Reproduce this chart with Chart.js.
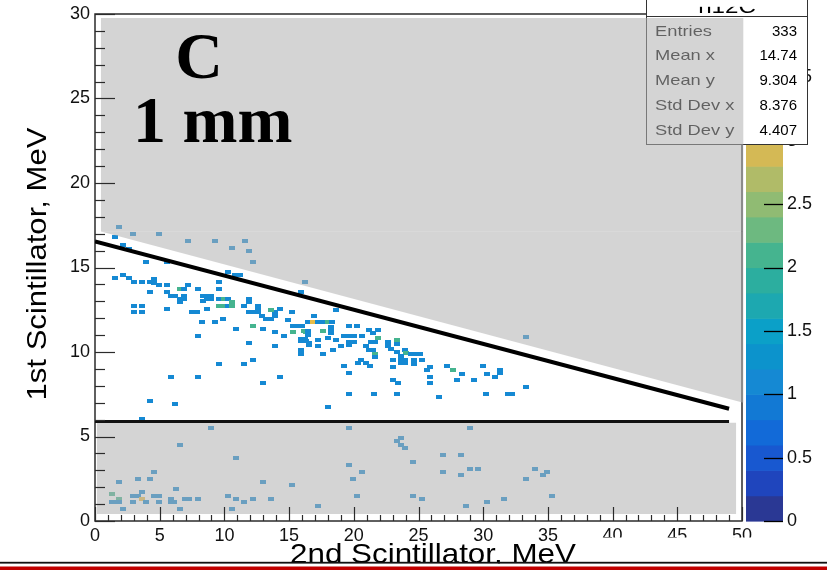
<!DOCTYPE html>
<html><head><meta charset="utf-8">
<script src="https://cdn.jsdelivr.net/npm/chart.js@4/dist/chart.umd.min.js"></script>
<style>html,body{margin:0;padding:0;background:#fff;}canvas{display:block;}</style>
</head><body>
<canvas id="c" width="827" height="570"></canvas>
<script>
// ---- histogram cells (2nd scintillator MeV, 1st scintillator MeV, entries) ----
const ptX = [
 1.88,2.96,4.92,7.19,9.27,11.57,10.59,11.9,12.21,16.25,33.3,
 15.92,1.55,2.19,2.65,3.94,5.56,10.25,10.84,11.23,9.61,
 1.55,2.19,2.65,2.99,3.63,4.27,4.58,4.58,4.92,5.56,6.54,6.85,7.19,
 4.27,5.56,5.87,6.21,6.54,6.54,6.85,6.85,7.96,9.61,
 8.32,8.66,8.32,8.66,8.97,8.97,9.61,9.94,10.25,
 9.61,9.94,10.25,10.59,10.59,11.54,11.9,11.9,12.57,12.57,14.3,15.25,
 2.99,3.63,2.99,3.63,5.56,7.5,7.85,8.63,
 11.9,12.2,12.57,12.88,13.21,13.6,13.94,13.94,13.6,
 8.29,9.27,9.92,10.9,12.21,12.98,13.94,14.58,
 14.89,15.28,15.66,15.28,15.97,16.3,15.92,16.25,16.56,
 7.96,11.88,13.94,15.92,9.61,11.54,12.21,5.87,7.96,14.3,12.98,4.27,6.21,3.63,
 16.9,18.62,
 16.43,16.82,17.2,17.59,17.98,18.3,
 18.24,18.24,18.24,
 16.17,16.43,16.43,17.6,
 15.92,16.3,16.56,17.2,17.98,18.62,19.0,17.2,18.37,17.6,15.92,
 19.65,20.25,19.27,19.65,20.0,20.61,19.65,19.99,19.65,
 20.94,21.2,21.9,21.46,21.3,21.6,21.85,
 21.2,21.46,21.6,21.6,
 20.56,20.3,20.94,21.28,19.27,19.65,
 22.62,22.62,23.3,23.3,22.88,23.34,23.96,24.03,
 24.4,24.75,25.1,
 23.65,23.0,23.65,23.96,24.68,25.25,
 23.0,23.65,23.96,24.63,23.0,23.39,
 25.91,25.66,25.91,25.91,
 27.2,27.64,28.34,27.98,29.31,29.96,30.29,30.91,31.27,31.27,
 30.22,31.89,32.2,26.55,23.34,21.53,19.6,17.98,33.3,
 8.96,6.54,10.92,4.58,1.88,3.3,4.27,6.23,3.61,
 1.29,1.29,1.6,1.88,1.88,
 2.96,3.3,3.61,3.94,4.58,4.92,4.92,2.96,5.87,6.13,5.87,6.95,7.29,7.98,2.19,6.54,
 10.25,10.92,10.59,11.54,12.21,12.98,13.63,15.25,17.23,19.6,19.6,20.61,19.96,20.27,
 28.98,23.31,23.65,23.65,23.98,26.92,28.31,24.6,26.92,28.31,28.98,29.62,
 33.33,33.98,34.62,34.95,24.6,25.27,28.65,30.27,31.58,35.29
];
const ptY = [
 17.39,16.97,16.97,16.56,16.56,16.56,16.14,15.96,15.33,14.15,10.9,
 13.53,16.78,16.36,16.12,15.33,15.33,14.74,14.54,14.54,14.15,
 14.36,14.54,14.36,14.17,14.17,14.17,14.33,14.09,13.95,13.95,13.73,13.73,13.95,
 13.53,13.53,13.34,13.34,13.14,12.94,13.34,13.14,13.73,13.73,
 13.34,13.34,13.0,13.14,13.14,13.34,13.14,13.14,13.14,
 12.74,12.74,12.74,12.74,12.94,12.74,13.14,12.94,12.74,12.55,12.55,12.35,
 12.74,12.74,12.35,12.35,12.55,12.35,12.35,12.55,
 12.35,12.35,12.35,12.15,11.96,11.96,12.15,12.35,12.51,
 11.76,11.76,11.96,11.36,11.56,11.36,11.16,10.92,
 11.92,11.56,11.56,11.16,11.56,11.16,10.77,10.77,10.53,
 10.92,10.53,10.33,9.9,9.31,9.31,9.53,8.52,8.52,8.52,8.14,7.11,6.92,6.03,
 12.15,12.51,
 11.76,11.76,11.76,11.76,11.76,11.76,
 11.5,11.3,11.1,
 11.22,11.22,11.02,11.22,
 10.63,10.63,10.43,10.73,10.83,10.73,10.33,10.33,10.1,9.9,10.1,
 11.56,11.56,10.92,10.92,10.92,10.92,10.57,10.57,10.43,
 10.33,11.32,11.32,11.13,10.61,10.61,10.83,
 10.14,10.14,9.9,9.7,
 9.54,9.35,9.35,9.15,9.15,8.76,
 10.57,10.37,10.69,10.49,10.18,9.98,10.14,9.94,
 9.9,9.9,9.9,
 9.78,9.54,9.54,9.54,9.54,9.54,
 9.11,9.35,9.35,9.31,8.36,8.16,
 9.11,8.95,8.52,8.16,
 9.15,8.95,8.71,8.32,8.32,9.15,8.71,8.52,8.95,8.76,
 7.53,7.53,7.53,7.33,7.53,7.53,7.53,6.74,7.93,
 5.53,4.52,3.72,2.9,2.33,2.49,2.49,1.9,1.7,
 1.6,1.11,1.11,1.3,1.11,
 1.48,1.48,1.3,1.14,1.48,1.48,1.11,1.11,1.29,1.11,1.11,1.3,1.3,1.3,0.69,0.69,
 1.48,1.3,0.69,1.11,1.3,2.33,1.3,2.12,0.89,5.53,3.32,2.9,2.49,1.48,
 5.53,4.74,4.94,4.52,4.31,3.93,3.93,3.5,2.92,2.71,3.08,3.08,
 2.49,3.08,2.71,2.92,1.48,1.3,0.89,1.11,1.3,1.48
];
const ptN = [
 1,1,1,1,1,1,1,1,1,1,1,
 1,1,1,1,1,1,1,1,1,1,
 1,1,1,1,1,1,1,1,1,1,2,1,1,
 1,1,1,1,1,1,1,1,1,1,
 1,1,1,1,1,1,1,2,1,
 2,2,1,2,2,1,1,1,1,1,1,1,
 1,1,1,1,1,1,1,1,
 1,1,1,1,1,1,1,1,2,
 1,1,1,1,2,1,1,1,
 1,1,1,2,1,2,1,1,1,
 1,1,1,1,1,1,1,1,1,1,1,1,1,1,
 1,1,
 1,3,1,1,2,1,
 1,1,1,
 2,1,1,2,
 1,1,1,1,1,1,1,1,1,1,1,
 1,1,1,1,1,1,1,1,1,
 1,1,1,1,1,1,2,
 1,1,2,1,
 1,1,1,1,1,1,
 1,1,2,1,1,1,1,2,
 1,1,1,
 1,1,1,1,1,1,
 1,1,1,1,1,1,
 1,1,1,1,
 1,2,1,1,1,1,1,1,1,1,
 1,1,1,1,1,1,1,1,1,
 1,1,1,1,1,1,1,1,1,
 2,1,1,2,1,
 1,1,3,1,1,1,1,1,1,1,1,1,1,1,1,1,
 1,1,1,1,1,1,1,1,1,1,1,1,1,1,
 1,1,1,1,1,1,1,1,1,1,1,1,
 1,1,1,1,1,1,1,1,1,1
];
// cut lines (x, y in MeV)
const cutLineX = [0, 49.0];
const cutLineY = [16.54, 6.64];
const vetoLineX = [0, 49.0];
const vetoLineY = [5.89, 5.89];
// shaded (rejected) regions, corners in MeV
const maskTop = [[0.46,29.76],[50.1,29.76],[50.1,17.13],[0.46,17.13]];
const maskWedge = [[0.46,17.13],[50.1,17.13],[50.1,7.0]];
const maskLow = [[0.15,5.81],[49.54,5.81],[49.54,0.41],[0.15,0.41]];
// colour palette (z) bands of 0.2
const bandStep = 0.2;
const bandColors = ['#2a3894','#1f45bd','#1858d0','#126ad8','#1279d4','#1589d3','#0c93cc','#0ba0c8','#1da8b0','#2cae9f',
 '#45b48f','#6db980','#90bb73','#b0bb68','#d4b955','#e8bd48','#f2c63e','#f6d434','#f8e22a','#f9f00f'];
// statistics box
const histName = 'h12C';
const statNames = ['Entries','Mean x','Mean y','Std Dev x','Std Dev y'];
const statValues = ['333','14.74','9.304','8.376','4.407'];
const xTitle = '2nd Scintillator, MeV';
const yTitle = '1st Scintillator, MeV';
const labelLine1 = 'C';
const labelLine2 = '1 mm';

const F = "'Liberation Sans', Arial, Helvetica, sans-serif";
function colorFor(v){ return bandColors[Math.min(bandColors.length-1, Math.floor((v+1e-6)/bandStep))]; }
const cellImg = {};
[1,2,3].forEach(n=>{ const c=document.createElement('canvas'); c.width=6; c.height=4; const g=c.getContext('2d'); g.fillStyle=colorFor(n); g.fillRect(0,0,6,4); cellImg[n]=c; });

function txt(ctx, s, x, y, font, align, sx, color){
  ctx.save(); ctx.translate(x,y); ctx.scale(sx,1); ctx.font=font; ctx.textAlign=align; ctx.textBaseline='alphabetic'; ctx.fillStyle=color; ctx.fillText(s,0,0); ctx.restore();
}
function poly(ctx, xs, ys, pts){
  ctx.beginPath();
  pts.forEach((p,i)=>{ const px=xs.getPixelForValue(p[0]), py=ys.getPixelForValue(p[1]); if(i) ctx.lineTo(px,py); else ctx.moveTo(px,py); });
  ctx.closePath(); ctx.fill();
}
function noPad(s){ s.paddingTop=0; s.paddingBottom=0; s.paddingLeft=0; s.paddingRight=0; }

const rootPlugin = {
  id:'rootStyle',
  beforeDatasetsDraw(chart){
    const {ctx, chartArea:a, scales} = chart; const z = scales.z;
    ctx.save();
    for (let i=0;i<bandColors.length;i++){
      const p0=z.getPixelForValue(i*bandStep), p1=z.getPixelForValue((i+1)*bandStep);
      ctx.fillStyle=bandColors[i]; ctx.fillRect(a.right+4, p1, 37, p0-p1+0.6);
    }
    ctx.strokeStyle='#000'; ctx.lineWidth=1.3;
    z.ticks.forEach(t=>{ const p=Math.round(z.getPixelForValue(t.value))+0.5; ctx.beginPath(); ctx.moveTo(a.right+22,p); ctx.lineTo(a.right+41,p); ctx.stroke(); });
    ctx.strokeStyle='#2b2b2b'; ctx.lineWidth=1.5;
    ctx.strokeRect(a.left, a.top, a.right-a.left, a.bottom-a.top);
    ctx.restore();
  },
  afterDatasetDraw(chart, args){
    if (args.index!==0) return;
    const {ctx, scales} = chart;
    ctx.save();
    const bx=646, by=16, bw=161, bh=128;
    ctx.fillStyle='#fff'; ctx.fillRect(bx,-5,bw,by+5); ctx.fillRect(bx,by,bw,bh);
    ctx.strokeStyle='#333'; ctx.lineWidth=1;
    ctx.strokeRect(bx+0.5,-5,bw,by+5.5); ctx.strokeRect(bx+0.5,by+0.5,bw,bh);
    txt(ctx, histName, 727, 12.5, '21px '+F, 'center', 1.15, '#000');
    ctx.fillStyle='#fff'; ctx.fillRect(bx+1,0,bw-1,6.8);
    statNames.forEach((s,i)=>{
      const yb = 35.5 + i*24.75;
      txt(ctx, s, 655, yb, '15px '+F, 'left', 1.22, '#000');
      txt(ctx, statValues[i], 797, yb, '15px '+F, 'right', 1.0, '#000');
    });
    ctx.fillStyle='rgba(176,176,176,0.55)';
    poly(ctx, scales.x, scales.y, maskTop);
    poly(ctx, scales.x, scales.y, maskWedge);
    poly(ctx, scales.x, scales.y, maskLow);
    ctx.restore();
  },
  afterDatasetsDraw(chart){
    const {ctx, chartArea:a, scales} = chart;
    ctx.save(); ctx.strokeStyle='#2b2b2b'; ctx.lineWidth=1.2;
    for (let v=0; v<=30; v++){ const p=Math.round(scales.y.getPixelForValue(v))+0.5; ctx.beginPath(); ctx.moveTo(a.left,p); ctx.lineTo(a.left+(v%5?10:20),p); ctx.stroke(); }
    for (let v=0; v<=50; v++){ const p=Math.round(scales.x.getPixelForValue(v))+0.5; ctx.beginPath(); ctx.moveTo(p,a.bottom); ctx.lineTo(p,a.bottom-(v%5?6:14)); ctx.stroke(); }
    ctx.restore();
  },
  afterDraw(chart){
    const {ctx} = chart;
    ctx.save();
    txt(ctx, labelLine1, 199, 78, 'bold 66px "Liberation Serif", "Times New Roman", serif', 'center', 1.0, '#000');
    txt(ctx, labelLine2, 133, 142, 'bold 66px "Liberation Serif", "Times New Roman", serif', 'left', 1.0, '#000');
    ctx.save(); ctx.translate(46,264); ctx.rotate(-Math.PI/2);
    txt(ctx, yTitle, 0, 0, '28px '+F, 'center', 1.11, '#000');
    ctx.restore();
    ctx.fillStyle='#fff'; ctx.fillRect(585,537.5,180,25);
    txt(ctx, xTitle, 433, 563, '28px '+F, 'center', 1.12, '#000');
    ctx.fillStyle='#fff'; ctx.fillRect(0,563.5,827,7);
    ctx.fillStyle='#111'; ctx.fillRect(0,561.8,827,1.8);
    ctx.fillStyle='#c00000'; ctx.fillRect(0,566.5,827,3.5);
    ctx.restore();
  }
};

const cells = ptX.map((x,i)=>({x:x, y:ptY[i]}));
const cutLine = cutLineX.map((x,i)=>({x:x, y:cutLineY[i]}));
const vetoLine = vetoLineX.map((x,i)=>({x:x, y:vetoLineY[i]}));
const tickFont = {family:F, size:18};

new Chart(document.getElementById('c'), {
  type:'scatter',
  data:{datasets:[
    {data:cells, order:10, pointStyle:(c)=>cellImg[ptN[c.dataIndex]] || cellImg[1], pointRadius:3, pointHoverRadius:3, borderWidth:0},
    {type:'line', data:cutLine, borderColor:'#000', borderWidth:4, pointRadius:0, fill:false, tension:0, order:1},
    {type:'line', data:vetoLine, borderColor:'#111', borderWidth:3, pointRadius:0, fill:false, tension:0, order:0}
  ]},
  options:{
    responsive:false, animation:false, devicePixelRatio:1, events:[],
    layout:{padding:{top:14,left:0,right:0,bottom:0}},
    plugins:{legend:{display:false}, tooltip:{enabled:false}, title:{display:false}},
    scales:{
      x:{type:'linear', position:'bottom', min:0, max:50, grid:{display:false, drawTicks:false}, border:{display:false},
         ticks:{stepSize:5, autoSkip:false, maxRotation:0, padding:4, color:'#111', font:tickFont, callback:v=>String(v)},
         afterFit:s=>{s.height=49; noPad(s);}},
      y:{type:'linear', position:'left', min:0, max:30, grid:{display:false, drawTicks:false}, border:{display:false},
         ticks:{stepSize:5, autoSkip:false, padding:5, color:'#111', font:tickFont, callback:v=>String(v)},
         afterFit:s=>{s.width=95; noPad(s);}},
      z:{type:'linear', position:'right', min:0, max:4, grid:{display:false, drawTicks:false}, border:{display:false},
         ticks:{stepSize:0.5, autoSkip:false, padding:45, color:'#111', font:tickFont, callback:v=>String(v)},
         afterFit:s=>{s.width=85; noPad(s);}}
    }
  },
  plugins:[rootPlugin]
});
</script>
</body></html>
